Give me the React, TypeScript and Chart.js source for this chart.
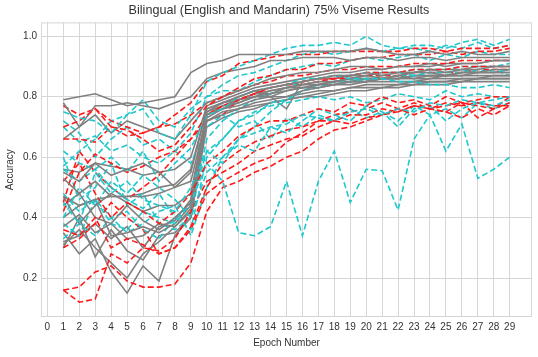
import React, { useEffect, useRef } from 'react';
import { Chart, registerables } from 'chart.js';
Chart.register(...registerables);

const TITLE = 'Bilingual (English and Mandarin) 75% Viseme Results';
const epochs = [1,2,3,4,5,6,7,8,9,10,11,12,13,14,15,16,17,18,19,20,21,22,23,24,25,26,27,28,29];
const xTicks = [0,1,2,3,4,5,6,7,8,9,10,11,12,13,14,15,16,17,18,19,20,21,22,23,24,25,26,27,28,29];
const yTicks = [0.2, 0.4, 0.6, 0.8, 1.0];

// gray (solid) runs
const g1 = [0.79,0.80,0.81,0.79,0.77,0.78,0.79,0.80,0.88,0.91,0.92,0.94,0.94,0.94,0.94,0.95,0.95,0.95,0.95,0.96,0.95,0.94,0.94,0.95,0.94,0.95,0.94,0.94,0.95];
const g2 = [0.78,0.70,0.77,0.77,0.78,0.77,0.76,0.78,0.80,0.86,0.88,0.89,0.90,0.92,0.92,0.93,0.93,0.93,0.92,0.93,0.93,0.92,0.93,0.93,0.92,0.93,0.93,0.93,0.93];
const g3 = [0.66,0.70,0.74,0.68,0.72,0.70,0.68,0.66,0.72,0.78,0.80,0.82,0.84,0.86,0.87,0.88,0.88,0.89,0.90,0.90,0.89,0.90,0.90,0.91,0.90,0.91,0.91,0.92,0.92];
const g4 = [0.55,0.52,0.58,0.54,0.56,0.58,0.55,0.50,0.55,0.76,0.78,0.80,0.82,0.83,0.84,0.85,0.86,0.87,0.87,0.88,0.87,0.88,0.88,0.89,0.88,0.89,0.89,0.90,0.90];
const g5 = [0.53,0.48,0.52,0.47,0.47,0.47,0.48,0.50,0.52,0.74,0.76,0.79,0.80,0.82,0.83,0.84,0.85,0.85,0.86,0.87,0.86,0.87,0.88,0.88,0.87,0.88,0.88,0.89,0.89];
const g6 = [0.47,0.38,0.44,0.48,0.45,0.42,0.44,0.44,0.48,0.75,0.77,0.79,0.81,0.81,0.83,0.84,0.84,0.85,0.86,0.86,0.86,0.87,0.86,0.87,0.87,0.88,0.88,0.88,0.88];
const g7 = [0.44,0.48,0.40,0.38,0.44,0.39,0.36,0.40,0.45,0.74,0.77,0.78,0.80,0.80,0.82,0.83,0.84,0.84,0.85,0.85,0.86,0.86,0.86,0.86,0.87,0.87,0.87,0.87,0.87];
const g8 = [0.40,0.44,0.46,0.34,0.35,0.37,0.35,0.38,0.44,0.73,0.76,0.77,0.79,0.80,0.80,0.82,0.83,0.84,0.84,0.85,0.85,0.85,0.85,0.86,0.86,0.86,0.86,0.86,0.86];
const g9 = [0.37,0.41,0.35,0.38,0.33,0.34,0.38,0.37,0.42,0.72,0.74,0.76,0.77,0.78,0.79,0.80,0.81,0.82,0.83,0.83,0.83,0.84,0.84,0.85,0.85,0.85,0.86,0.86,0.86];
const g10 = [0.30,0.40,0.27,0.36,0.29,0.26,0.34,0.35,0.40,0.72,0.75,0.76,0.78,0.79,0.80,0.81,0.82,0.82,0.83,0.84,0.84,0.84,0.85,0.85,0.85,0.86,0.86,0.87,0.87];
const g11 = [0.31,0.36,0.30,0.25,0.20,0.28,0.32,0.37,0.43,0.74,0.76,0.78,0.80,0.81,0.82,0.83,0.83,0.84,0.85,0.85,0.86,0.86,0.87,0.87,0.87,0.88,0.88,0.88,0.89];
const g12 = [0.35,0.28,0.33,0.22,0.15,0.24,0.19,0.34,0.40,0.70,0.73,0.75,0.76,0.78,0.79,0.80,0.80,0.81,0.82,0.82,0.83,0.83,0.84,0.84,0.84,0.85,0.85,0.85,0.85];
const g13 = [0.32,0.34,0.38,0.33,0.37,0.30,0.37,0.39,0.46,0.75,0.78,0.79,0.81,0.82,0.83,0.83,0.84,0.85,0.85,0.86,0.86,0.86,0.87,0.87,0.87,0.87,0.88,0.88,0.88];
const g14 = [0.56,0.55,0.58,0.57,0.56,0.54,0.55,0.56,0.60,0.77,0.79,0.81,0.83,0.84,0.85,0.86,0.87,0.88,0.88,0.89,0.89,0.90,0.90,0.90,0.91,0.91,0.91,0.92,0.92];
const g15 = [0.47,0.44,0.46,0.47,0.47,0.48,0.50,0.51,0.56,0.76,0.78,0.80,0.82,0.80,0.76,0.85,0.86,0.86,0.87,0.87,0.88,0.88,0.88,0.89,0.89,0.89,0.90,0.90,0.90];

// red dashed runs
const r1 = [0.70,0.72,0.76,0.72,0.70,0.68,0.70,0.74,0.78,0.85,0.87,0.91,0.92,0.93,0.94,0.94,0.94,0.95,0.95,0.95,0.95,0.95,0.96,0.96,0.95,0.96,0.96,0.96,0.97];
const r2 = [0.66,0.66,0.65,0.70,0.69,0.66,0.62,0.64,0.70,0.77,0.80,0.83,0.86,0.87,0.89,0.89,0.91,0.91,0.92,0.93,0.93,0.94,0.94,0.94,0.95,0.94,0.95,0.95,0.96];
const r3 = [0.77,0.74,0.76,0.70,0.67,0.68,0.70,0.71,0.74,0.78,0.80,0.82,0.84,0.85,0.87,0.87,0.88,0.89,0.89,0.90,0.90,0.90,0.91,0.91,0.91,0.92,0.92,0.92,0.92];
const r4 = [0.42,0.55,0.61,0.58,0.55,0.57,0.60,0.62,0.66,0.74,0.77,0.79,0.81,0.83,0.84,0.85,0.86,0.86,0.87,0.88,0.88,0.88,0.89,0.89,0.89,0.90,0.90,0.90,0.90];
const r5 = [0.52,0.58,0.48,0.40,0.45,0.42,0.38,0.42,0.48,0.58,0.62,0.67,0.70,0.72,0.72,0.74,0.76,0.75,0.78,0.77,0.80,0.78,0.79,0.77,0.80,0.78,0.79,0.80,0.80];
const r6 = [0.36,0.34,0.40,0.30,0.33,0.31,0.28,0.30,0.37,0.50,0.58,0.62,0.65,0.67,0.69,0.70,0.72,0.72,0.74,0.74,0.76,0.75,0.77,0.76,0.78,0.77,0.78,0.77,0.77];
const r7 = [0.16,0.12,0.13,0.28,0.25,0.30,0.29,0.33,0.42,0.52,0.55,0.58,0.62,0.64,0.66,0.67,0.70,0.72,0.71,0.73,0.74,0.76,0.74,0.76,0.75,0.73,0.76,0.74,0.77];
const r8 = [0.16,0.17,0.22,0.24,0.19,0.17,0.17,0.18,0.25,0.42,0.50,0.52,0.55,0.57,0.60,0.62,0.66,0.69,0.70,0.72,0.74,0.75,0.77,0.76,0.77,0.78,0.77,0.76,0.80];
const r9 = [0.30,0.33,0.38,0.45,0.40,0.36,0.28,0.30,0.36,0.48,0.52,0.55,0.58,0.60,0.65,0.68,0.72,0.74,0.75,0.76,0.78,0.76,0.78,0.76,0.75,0.78,0.73,0.76,0.78];
const r10 = [0.45,0.62,0.55,0.50,0.46,0.50,0.54,0.60,0.66,0.72,0.74,0.79,0.81,0.83,0.84,0.84,0.85,0.86,0.86,0.87,0.87,0.87,0.88,0.88,0.88,0.88,0.89,0.89,0.89];

// cyan dashed runs
const c1 = [0.75,0.73,0.72,0.68,0.74,0.76,0.68,0.66,0.74,0.85,0.88,0.90,0.92,0.94,0.96,0.97,0.97,0.98,0.97,1.00,0.97,0.96,0.97,0.97,0.96,0.98,0.99,0.97,0.99];
const c2 = [0.57,0.62,0.66,0.72,0.74,0.79,0.72,0.70,0.76,0.80,0.84,0.87,0.88,0.90,0.92,0.94,0.95,0.94,0.95,0.96,0.95,0.96,0.96,0.95,0.97,0.96,0.98,0.96,0.97];
const c3 = [0.70,0.65,0.67,0.62,0.64,0.60,0.58,0.62,0.68,0.80,0.82,0.82,0.85,0.87,0.89,0.90,0.91,0.90,0.92,0.93,0.92,0.93,0.94,0.92,0.94,0.93,0.95,0.94,0.94];
const c4 = [0.62,0.58,0.56,0.60,0.55,0.62,0.52,0.58,0.63,0.74,0.76,0.80,0.82,0.83,0.84,0.86,0.86,0.87,0.86,0.86,0.86,0.85,0.85,0.84,0.84,0.83,0.83,0.84,0.83];
const c5 = [0.45,0.38,0.55,0.48,0.52,0.46,0.44,0.42,0.50,0.62,0.58,0.66,0.68,0.70,0.71,0.74,0.73,0.72,0.75,0.76,0.74,0.76,0.75,0.78,0.77,0.79,0.78,0.79,0.80];
const c6 = [0.40,0.50,0.44,0.52,0.48,0.54,0.50,0.46,0.40,0.55,0.60,0.64,0.62,0.70,0.68,0.72,0.76,0.74,0.72,0.77,0.75,0.70,0.76,0.77,0.72,0.76,0.78,0.77,0.79];
const c7 = [0.48,0.42,0.46,0.38,0.36,0.42,0.40,0.38,0.45,0.58,0.52,0.35,0.34,0.37,0.52,0.34,0.52,0.62,0.45,0.56,0.555,0.425,0.66,0.74,0.62,0.71,0.53,0.56,0.60];
const c8 = [0.56,0.52,0.56,0.50,0.46,0.43,0.48,0.40,0.36,0.60,0.66,0.72,0.74,0.78,0.79,0.82,0.83,0.85,0.85,0.86,0.86,0.87,0.87,0.88,0.88,0.88,0.89,0.88,0.89];
const c9 = [0.33,0.38,0.34,0.40,0.42,0.36,0.33,0.40,0.44,0.62,0.66,0.72,0.75,0.77,0.78,0.79,0.80,0.79,0.80,0.78,0.79,0.81,0.80,0.79,0.82,0.80,0.81,0.80,0.80];
const c10 = [0.60,0.46,0.50,0.58,0.44,0.48,0.38,0.36,0.40,0.66,0.72,0.76,0.79,0.81,0.83,0.85,0.86,0.87,0.87,0.88,0.88,0.88,0.89,0.89,0.89,0.90,0.90,0.90,0.91];
const c11 = [0.72,0.68,0.60,0.66,0.70,0.64,0.66,0.62,0.58,0.70,0.74,0.70,0.72,0.66,0.73,0.70,0.74,0.72,0.76,0.73,0.75,0.72,0.77,0.74,0.76,0.73,0.78,0.76,0.78];
const c12 = [0.38,0.34,0.46,0.40,0.35,0.38,0.42,0.44,0.34,0.50,0.60,0.66,0.70,0.75,0.79,0.82,0.84,0.85,0.86,0.85,0.87,0.88,0.87,0.88,0.88,0.89,0.88,0.89,0.87];

const grayRuns = [g1,g2,g3,g4,g5,g6,g7,g8,g9,g10,g11,g12,g13,g14,g15];
const redRuns = [r1,r2,r3,r4,r5,r6,r7,r8,r9,r10];
const cyanRuns = [c1,c2,c3,c4,c5,c6,c7,c8,c9,c10,c11,c12];

const GRAY = '#808080';
const RED = '#ff1a1a';
const CYAN = '#1fc8cc';
const GRID = '#d6d6d6';
const TEXT = '#333333';

function toPoints(vals: number[]) {
  return vals.map((v, i) => ({ x: epochs[i], y: v }));
}

const boxPlugin = {
  id: 'boxPlugin',
  beforeDatasetsDraw(chart: any) {
    const { ctx, chartArea } = chart;
    ctx.save();
    ctx.strokeStyle = GRID;
    ctx.lineWidth = 1;
    ctx.strokeRect(chartArea.left + 0.5, chartArea.top + 0.5, chartArea.right - chartArea.left - 1, chartArea.bottom - chartArea.top - 1);
    ctx.restore();
  },
  afterDraw(chart: any) {
    const { ctx } = chart;
    ctx.save();
    ctx.fillStyle = TEXT;
    ctx.font = '12.6px "Liberation Sans", Arial, sans-serif';
    ctx.textAlign = 'center';
    ctx.textBaseline = 'middle';
    ctx.fillText(TITLE, 279, 11);
    ctx.restore();
  },
};

export default function App() {
  const ref = useRef<HTMLCanvasElement | null>(null);
  useEffect(() => {
    document.body.style.margin = '0';
    Chart.defaults.font.family = '"Liberation Sans", Arial, sans-serif';
    const datasets: any[] = [];
    const n = Math.max(grayRuns.length, redRuns.length, cyanRuns.length);
    for (let i = 0; i < n; i++) {
      if (grayRuns[i]) datasets.push({ data: toPoints(grayRuns[i]), borderColor: GRAY, borderWidth: 1.6, pointRadius: 0, fill: false, tension: 0 });
      if (cyanRuns[i]) datasets.push({ data: toPoints(cyanRuns[i]), borderColor: CYAN, borderWidth: 1.6, borderDash: [6, 3], pointRadius: 0, fill: false, tension: 0 });
      if (redRuns[i]) datasets.push({ data: toPoints(redRuns[i]), borderColor: RED, borderWidth: 1.6, borderDash: [6, 3], pointRadius: 0, fill: false, tension: 0 });
    }
    const chart = new Chart(ref.current as HTMLCanvasElement, {
      type: 'line',
      data: { datasets },
      plugins: [boxPlugin],
      options: {
        animation: false,
        responsive: false,
        layout: { padding: { left: 0, right: 6, top: 0, bottom: 0 } },
        plugins: {
          legend: { display: false },
          tooltip: { enabled: false },
          title: {
            display: true,
            text: ' ',
            color: TEXT,
            font: { size: 12, weight: 'normal' as any },
            padding: { top: 4, bottom: 4 },
          },
        },
        scales: {
          x: {
            type: 'linear',
            min: -0.4,
            max: 30.4,
            afterBuildTicks: (scale: any) => { scale.ticks = xTicks.map((v) => ({ value: v })); },
            afterFit: (scale: any) => { scale.height = 40; },
            ticks: { color: TEXT, font: { size: 10 }, padding: 4, maxRotation: 0, autoSkip: false, callback: (v: any) => String(v) },
            grid: { color: GRID, drawTicks: false },
            border: { display: false },
            title: { display: true, text: 'Epoch Number', color: TEXT, font: { size: 10 }, padding: { top: 0, bottom: 8 } },
          },
          y: {
            type: 'linear',
            min: 0.071,
            max: 1.046,
            afterBuildTicks: (scale: any) => { scale.ticks = yTicks.map((v) => ({ value: v })); },
            afterFit: (scale: any) => { scale.width = 41; },
            ticks: { color: TEXT, font: { size: 10 }, padding: 4, callback: (v: any) => Number(v).toFixed(1) },
            grid: { color: GRID, drawTicks: false },
            border: { display: false },
            title: { display: true, text: 'Accuracy', color: TEXT, font: { size: 10 }, padding: { top: 4, bottom: 0 } },
          },
        },
      },
    });
    return () => chart.destroy();
  }, []);
  return (
    <div style={{ width: 538, height: 357 }}>
      <canvas ref={ref} width={538} height={357} style={{ width: 538, height: 357, display: 'block' }} />
    </div>
  );
}
